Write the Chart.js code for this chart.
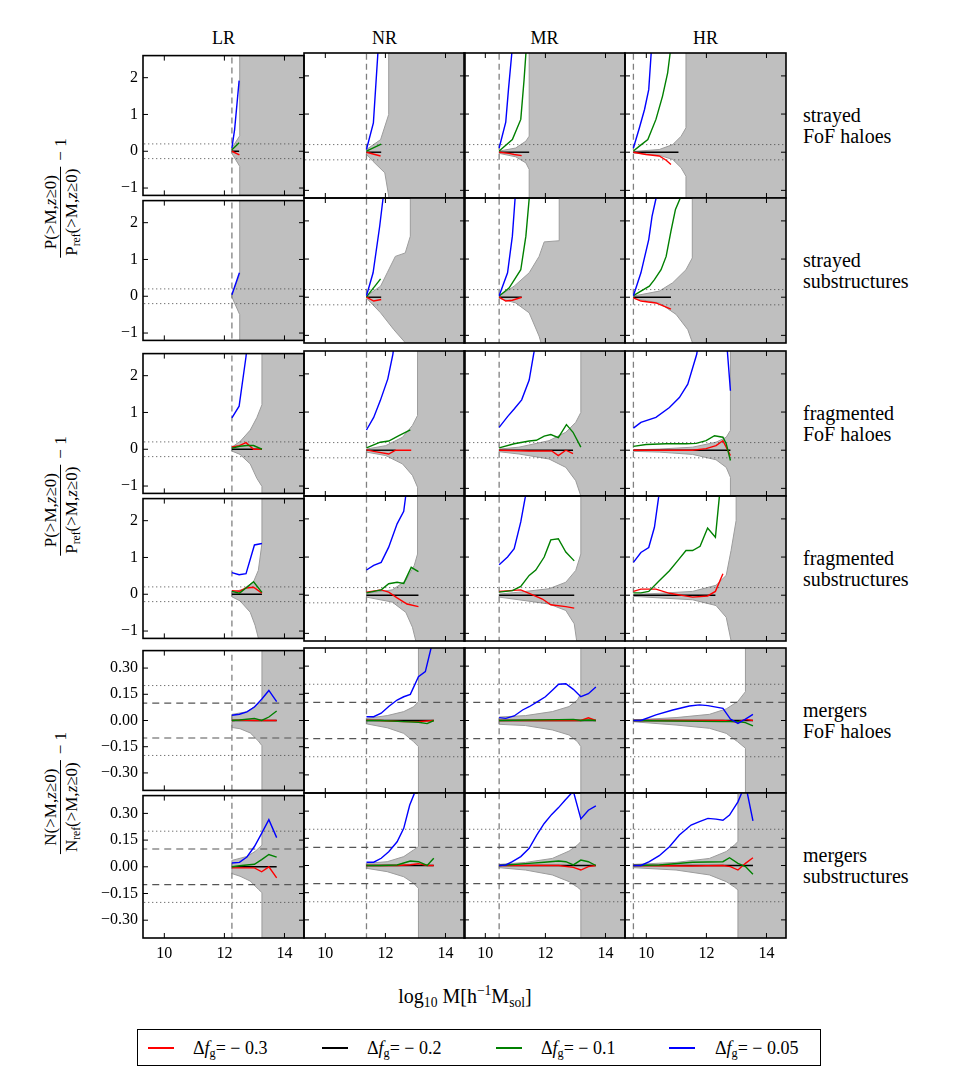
<!DOCTYPE html>
<html>
<head>
<meta charset="utf-8">
<script src="https://cdn.jsdelivr.net/npm/chart.js@4.4.1/dist/chart.umd.min.js"></script>
<style>
  body { margin: 0; background: #fff; width: 954px; height: 1073px; position: relative; overflow: hidden; }
  canvas { position: absolute; }
  .t { position: absolute; white-space: nowrap; font-family: "Liberation Serif", "Times New Roman", "DejaVu Serif", serif; color: #000; }
  .title { font-size: 18px; transform: translate(-50%, -50%); }
  .side { font-size: 20px; line-height: 21px; transform: translateY(-50%); }
  .ylab { font-size: 17px; transform: translate(-50%, -50%) rotate(-90deg); display: flex; align-items: center; }
  .frac { display: inline-flex; flex-direction: column; align-items: center; margin-right: 6px; line-height: 19px; }
  .frac .den { border-top: 1px solid #000; padding: 1px 2px 0 2px; }
  sub, sup { font-size: 0.68em; line-height: 0; }
  sub { vertical-align: -0.3em; }
  sup { vertical-align: 0.55em; }
  .xlab { font-size: 20px; transform: translate(-50%, -50%); }
  .legend { position: absolute; border: 1px solid #000; box-sizing: border-box; }
  .key { position: absolute; top: 17px; width: 26px; height: 1.5px; }
  .lt { position: absolute; top: 50%; transform: translateY(-50%); font-size: 18px; }
</style>
</head>
<body>

<div class="t title" style="left:223.5px;top:38px">LR</div>
<div class="t title" style="left:384.5px;top:38px">NR</div>
<div class="t title" style="left:544.5px;top:38px">MR</div>
<div class="t title" style="left:705.5px;top:38px">HR</div>

<div class="t side" style="left:803px;top:126px">strayed<br>FoF haloes</div>
<div class="t side" style="left:803px;top:271px">strayed<br>substructures</div>
<div class="t side" style="left:803px;top:424px">fragmented<br>FoF haloes</div>
<div class="t side" style="left:803px;top:569px">fragmented<br>substructures</div>
<div class="t side" style="left:803px;top:721px">mergers<br>FoF haloes</div>
<div class="t side" style="left:803px;top:866px">mergers<br>substructures</div>

<div class="t ylab" style="left:61px;top:198px"><span class="frac"><span>P(&gt;M,<i>z</i>≥0)</span><span class="den">P<sub>ref</sub>(&gt;M,<i>z</i>≥0)</span></span><span>− 1</span></div>
<div class="t ylab" style="left:61px;top:496px"><span class="frac"><span>P(&gt;M,<i>z</i>≥0)</span><span class="den">P<sub>ref</sub>(&gt;M,<i>z</i>≥0)</span></span><span>− 1</span></div>
<div class="t ylab" style="left:61px;top:793px"><span class="frac"><span>N(&gt;M,<i>z</i>≥0)</span><span class="den">N<sub>ref</sub>(&gt;M,<i>z</i>≥0)</span></span><span>− 1</span></div>

<div class="t xlab" style="left:465px;top:996px">log<sub>10</sub> M[h<sup>−1</sup>M<sub>sol</sub>]</div>

<div class="legend" style="left:137px;top:1029px;width:684px;height:37px">
  <div class="key" style="left:10px;background:#ff0000"></div>
  <div class="t lt" style="left:55px">Δ<i>f</i><sub>g</sub>= − 0.3</div>
  <div class="key" style="left:184px;background:#000000"></div>
  <div class="t lt" style="left:229px">Δ<i>f</i><sub>g</sub>= − 0.2</div>
  <div class="key" style="left:358px;background:#008000"></div>
  <div class="t lt" style="left:403px">Δ<i>f</i><sub>g</sub>= − 0.1</div>
  <div class="key" style="left:531px;background:#0000ff"></div>
  <div class="t lt" style="left:577px">Δ<i>f</i><sub>g</sub>= − 0.05</div>
</div>

<script>
// axes
const massMin = 9.29, massMax = 14.65;
const massTicks = [10, 12, 14];
const fracTicks = [-1, 0, 1, 2];
const countTicks = [-0.3, -0.15, 0, 0.15, 0.3];
const resolutionCut = [12.25, 11.37, 10.46, 9.57];   // LR, NR, MR, HR
const dottedLevels = [0.2, -0.2];
const dashedLevels = [0.1, -0.1];

// each array: one list of [log10 M, value] per resolution LR, NR, MR, HR

// strayed FoF haloes
const strayedFofRed = [
  [[12.25,0],[12.5,-0.1]],
  [[11.37,0],[11.84,-0.1]],
  [[10.46,0],[10.79,-0.03],[10.96,-0.06],[11.21,-0.09]],
  [[9.57,0],[9.99,-0.06],[10.43,-0.1],[10.66,-0.21],[10.82,-0.32]]];
const strayedFofBlack = [
  [[12.25,0],[12.49,0]], [[11.37,0],[11.86,0]], [[10.46,0],[11.46,0]], [[9.57,0],[11.07,0]]];
const strayedFofGreen = [
  [[12.25,0.04],[12.49,0.23]],
  [[11.37,0.03],[11.86,0.21]],
  [[10.46,0.03],[10.9,0.33],[11.18,0.86],[11.29,1.9],[11.35,2.58],[11.4,3.2]],
  [[9.57,0.03],[9.77,0.16],[10.05,0.33],[10.32,0.86],[10.54,1.47],[10.71,2.08],[10.79,2.58],[10.85,3.0]]];
const strayedFofBlue = [
  [[12.25,0.09],[12.34,0.59],[12.49,1.92]],
  [[11.37,0.07],[11.6,0.77],[11.75,2.6],[11.85,3.5]],
  [[10.46,0.11],[10.68,0.79],[10.77,1.64],[10.88,2.58],[10.95,3.2]],
  [[9.57,0.11],[9.77,0.64],[9.94,1.12],[10.08,1.64],[10.16,2.58],[10.2,3.0]]];
const strayedFofUpper = [
  [[12.25,0.09],[12.51,0.42]],
  [[11.37,0.07],[11.84,0.33],[12.11,0.99]],
  [[10.46,0.03],[11.01,0.11],[11.35,0.29],[11.46,0.42]],
  [[9.57,0.02],[10.43,0.07],[10.88,0.2],[11.16,0.42],[11.32,0.64]]];
const strayedFofLower = [
  [[12.25,-0.06],[12.51,-0.41]],
  [[11.37,-0.06],[11.59,-0.24],[11.98,-0.54],[12.11,-1.15]],
  [[10.46,-0.03],[11.01,-0.12],[11.35,-0.28],[11.46,-0.45]],
  [[9.57,-0.02],[10.43,-0.08],[10.88,-0.19],[11.16,-0.41],[11.32,-0.63]]];
const strayedFofCut = [12.51, 12.11, 11.46, 11.32];

// strayed substructures
const strayedSubRed = [
  [],
  [[11.37,0],[11.61,-0.1],[11.86,-0.06]],
  [[10.46,0],[10.68,-0.1],[10.9,-0.08],[11.21,0]],
  [[9.57,-0.02],[9.82,-0.1],[10.32,-0.15],[10.6,-0.24],[10.82,-0.31]]];
const strayedSubBlack = [
  [], [[11.37,0],[11.86,0]], [[10.46,0],[11.21,0]], [[9.57,0],[10.82,0]]];
const strayedSubGreen = [
  [],
  [[11.37,0.01],[11.84,0.48]],
  [[10.46,0.03],[10.79,0.24],[11.18,0.72],[11.35,1.6],[11.46,2.58],[11.5,3.0]],
  [[9.57,0.04],[9.82,0.16],[10.1,0.29],[10.27,0.46],[10.49,0.72],[10.66,1.07],[10.82,1.73],[10.97,2.3],[11.12,2.58],[11.2,3.0]]];
const strayedSubBlue = [
  [[12.25,0.04],[12.5,0.64]],
  [[11.37,0.04],[11.59,0.64],[11.81,1.86],[11.92,2.58],[12.0,3.2]],
  [[10.46,0.04],[10.74,0.64],[10.9,1.6],[10.99,2.58],[11.05,3.2]],
  [[9.57,0.04],[9.82,0.64],[10.08,1.51],[10.19,2.12],[10.32,2.58],[10.4,3.0]]];
const strayedSubUpper = [
  [[12.25,0.05],[12.51,0.6]],
  [[11.39,0.04],[11.84,0.29],[12.06,0.64],[12.33,1.07],[12.66,1.16],[12.83,1.6]],
  [[10.46,0.03],[10.96,0.29],[11.46,0.64],[11.79,1.07],[11.96,1.45],[12.46,1.48]],
  [[9.57,0.03],[10.43,0.16],[10.88,0.38],[11.32,0.72],[11.53,1.03]]];
const strayedSubLower = [
  [[12.25,-0.02],[12.51,-0.5]],
  [[11.39,-0.04],[11.84,-0.41],[12.28,-0.85],[12.67,-1.2],[12.83,-1.6]],
  [[10.46,-0.03],[11.01,-0.15],[11.46,-0.41],[11.79,-1.02],[11.85,-1.18],[12.0,-1.5],[12.46,-1.6]],
  [[9.57,-0.03],[10.43,-0.15],[10.99,-0.45],[11.38,-0.85],[11.53,-1.18]]];
const strayedSubCut = [12.51, 12.83, 12.46, 11.53];

// fragmented FoF haloes
const fragFofRed = [
  [[12.25,0.06],[12.5,0.1],[12.72,0.18],[12.97,0],[13.25,0]],
  [[11.37,0.01],[11.61,-0.03],[12.11,-0.1],[12.34,0],[12.86,0]],
  [[10.46,0],[11.46,-0.02],[12.21,-0.02],[12.43,-0.14],[12.68,0],[12.92,-0.09]],
  [[9.57,0],[10.43,0],[11.54,0],[11.99,0.04],[12.32,0.12],[12.55,0.25],[12.8,-0.14]]];
const fragFofBlack = [
  [[12.25,0],[13.25,0]], [[11.37,0],[12.34,0]], [[10.46,0],[12.92,0]], [[9.57,0],[12.8,0]]];
const fragFofGreen = [
  [[12.25,0.03],[12.52,0.08],[12.75,0.1],[12.97,0.1],[13.25,0]],
  [[11.37,0.06],[11.61,0.14],[11.83,0.21],[12.11,0.24],[12.45,0.38],[12.83,0.53]],
  [[10.46,0.06],[10.96,0.17],[11.46,0.24],[11.7,0.26],[11.96,0.37],[12.18,0.41],[12.43,0.33],[12.7,0.67],[12.92,0.47],[13.18,0.08]],
  [[9.57,0.1],[9.99,0.15],[10.66,0.17],[11.32,0.17],[11.66,0.18],[11.99,0.25],[12.27,0.38],[12.55,0.34],[12.66,0.17],[12.8,-0.27]]];
const fragFofBlue = [
  [[12.25,0.85],[12.49,1.17],[12.72,2.52],[12.8,3.2]],
  [[11.37,0.53],[11.61,0.86],[11.83,1.3],[12.08,1.87],[12.25,2.52],[12.35,3.2]],
  [[10.46,0.6],[10.74,0.88],[10.96,1.08],[11.21,1.32],[11.46,1.84],[11.62,2.57],[11.7,3.2]],
  [[9.57,0.58],[9.82,0.73],[10.32,0.86],[10.77,1.12],[11.1,1.38],[11.38,1.73],[11.68,2.52],[12.0,4.5],[12.5,4.6],[12.8,1.56]]];
const fragFofUpper = [
  [[12.25,0.06],[12.52,0.21],[12.86,0.52],[13.08,0.86],[13.25,1.21]],
  [[11.37,0.03],[12.01,0.12],[12.57,0.34],[12.9,0.65],[13.07,0.91]],
  [[10.46,0.03],[11.12,0.08],[12.12,0.25],[12.68,0.47],[13.01,0.73],[13.18,0.99]],
  [[9.57,0.01],[10.43,0.03],[11.54,0.08],[12.32,0.21],[12.66,0.34],[12.8,0.52]]];
const fragFofLower = [
  [[12.25,-0.05],[12.52,-0.14],[12.86,-0.4],[13.08,-0.79],[13.25,-1.01]],
  [[11.37,-0.05],[12.01,-0.14],[12.57,-0.36],[12.9,-0.66],[13.07,-0.97]],
  [[10.46,-0.04],[11.12,-0.1],[12.12,-0.23],[12.68,-0.45],[13.01,-0.8],[13.18,-1.2]],
  [[9.57,-0.03],[10.43,-0.05],[11.54,-0.11],[12.32,-0.25],[12.66,-0.45],[12.8,-0.71]]];
const fragFofCut = [13.25, 13.07, 13.18, 12.8];

// fragmented substructures
const fragSubRed = [
  [[12.25,0.1],[12.5,0.08],[12.72,0.17],[12.97,0.19],[13.25,0.03]],
  [[11.37,0.08],[11.86,0.14],[12.11,0.08],[12.39,-0.07],[12.72,-0.23],[13.1,-0.3]],
  [[10.46,0.1],[11.18,0.14],[11.46,0.05],[11.9,-0.1],[12.18,-0.25],[12.68,-0.3],[12.96,-0.34]],
  [[9.57,0.1],[9.82,0.16],[10.32,0.16],[10.77,0.05],[11.54,-0.05],[12.04,-0.02],[12.3,0.1],[12.55,0.56]]];
const fragSubBlack = [
  [[12.25,0],[13.25,0]], [[11.37,0],[13.1,0]], [[10.46,0],[12.96,0]], [[9.57,0],[12.3,0]]];
const fragSubGreen = [
  [[12.25,0.08],[12.5,0.03],[12.72,0.17],[12.97,0.34],[13.25,0.05]],
  [[11.37,0.06],[11.86,0.14],[12.11,0.3],[12.39,0.34],[12.61,0.31],[12.86,0.73],[13.1,0.62]],
  [[10.46,0.08],[10.9,0.12],[11.18,0.23],[11.46,0.52],[11.68,0.66],[11.96,1.0],[12.18,1.45],[12.43,1.48],[12.68,1.13],[12.96,0.9]],
  [[9.57,0.06],[9.82,0.06],[10.08,0.1],[10.43,0.38],[10.77,0.64],[11.04,0.9],[11.32,1.17],[11.54,1.17],[11.79,1.28],[12.04,1.76],[12.3,1.52],[12.43,2.57],[12.48,3.0]]];
const fragSubBlue = [
  [[12.25,0.59],[12.49,0.53],[12.72,0.56],[13.0,1.34],[13.25,1.38]],
  [[11.37,0.66],[11.61,0.78],[11.86,0.86],[12.11,1.26],[12.39,1.87],[12.61,2.2],[12.67,2.56],[12.72,3.0]],
  [[10.46,0.8],[10.74,1.0],[10.96,1.22],[11.18,1.92],[11.33,2.57],[11.4,3.0]],
  [[9.57,0.86],[9.82,1.12],[10.08,1.25],[10.27,1.78],[10.41,2.57],[10.46,3.0]]];
const fragSubUpper = [
  [[12.25,0.05],[12.63,0.14],[12.97,0.34],[13.13,0.65],[13.25,1.38]],
  [[11.37,0.05],[12.23,0.14],[12.68,0.38],[12.96,0.78],[13.07,1.08]],
  [[10.46,0.03],[11.12,0.08],[12.12,0.17],[12.68,0.34],[13.01,0.65],[13.18,1.08]],
  [[9.57,0.02],[10.43,0.05],[11.54,0.1],[12.32,0.26],[12.66,0.52],[12.82,1.17],[12.99,1.96]]];
const fragSubLower = [
  [[12.25,-0.07],[12.52,-0.18],[12.86,-0.49],[13.02,-0.84],[13.13,-1.19],[13.25,-1.5]],
  [[11.37,-0.05],[12.23,-0.18],[12.68,-0.45],[12.9,-0.84],[13.01,-1.19],[13.07,-1.5]],
  [[10.46,-0.05],[11.12,-0.12],[12.12,-0.23],[12.68,-0.4],[12.96,-0.75],[13.04,-1.19],[13.18,-1.6]],
  [[9.57,-0.03],[10.43,-0.07],[11.54,-0.12],[12.32,-0.27],[12.66,-0.58],[12.82,-1.19],[12.99,-1.6]]];
const fragSubCut = [13.25, 13.07, 13.18, 12.99];

// mergers FoF haloes
const mergFofRed = [
  [[12.25,0],[12.5,0.002],[13.0,0],[13.74,0]],
  [[11.37,0.002],[11.83,0],[12.61,-0.006],[13.1,-0.006],[13.61,0]],
  [[10.46,0],[12.44,0],[13.18,0],[13.43,0.015],[13.68,0]],
  [[9.57,0],[12.55,0],[12.8,-0.004],[13.05,-0.008],[13.3,0.006],[13.55,0]]];
const mergFofBlack = [
  [[12.25,0],[13.74,0]], [[11.37,0],[13.61,0]], [[10.46,0],[13.68,0]], [[9.57,0],[13.55,0]]];
const mergFofGreen = [
  [[12.25,0],[12.5,0.003],[13.0,0.012],[13.24,0],[13.48,0.02],[13.74,0.054]],
  [[11.37,0],[11.83,0],[12.61,-0.006],[13.1,-0.01],[13.39,-0.017],[13.61,0]],
  [[10.46,0],[12.44,0.005],[12.93,0.006],[13.18,0],[13.43,0.003],[13.68,0]],
  [[9.57,0],[12.55,-0.006],[13.05,-0.006],[13.3,-0.012],[13.55,-0.03]]];
const mergFofBlue = [
  [[12.25,0.03],[12.5,0.036],[12.75,0.049],[13.0,0.077],[13.24,0.122],[13.48,0.172],[13.74,0.108]],
  [[11.37,0.021],[11.61,0.021],[11.86,0.04],[12.11,0.077],[12.39,0.113],[12.61,0.131],[12.83,0.144],[13.1,0.242],[13.33,0.27],[13.52,0.4],[13.56,0.45]],
  [[10.46,0.016],[10.68,0.012],[10.96,0.025],[11.24,0.058],[11.46,0.076],[11.74,0.104],[12.0,0.131],[12.24,0.168],[12.44,0.2],[12.68,0.203],[12.93,0.172],[13.18,0.131],[13.43,0.148],[13.68,0.185]],
  [[9.57,0],[9.82,0],[10.32,0.031],[10.88,0.058],[11.43,0.08],[11.77,0.086],[12.05,0.082],[12.55,0.067],[12.8,0.008],[13.05,-0.016],[13.3,0.008],[13.55,0.034]]];
const mergFofUpper = [
  [[12.25,0.035],[12.75,0.05],[13.0,0.08],[13.25,0.11]],
  [[11.39,0.012],[12.06,0.027],[12.61,0.049],[12.94,0.076],[13.1,0.104]],
  [[10.46,0.019],[11.34,0.027],[12.23,0.049],[12.79,0.077],[13.07,0.114],[13.18,0.15]],
  [[9.57,0.003],[10.99,0.016],[12.1,0.034],[12.66,0.064],[13.04,0.104],[13.3,0.159]]];
const mergFofLower = [
  [[12.25,-0.04],[12.52,-0.047],[12.86,-0.071],[13.13,-0.117],[13.25,-0.144]],
  [[11.39,-0.019],[12.06,-0.04],[12.61,-0.071],[12.94,-0.117],[13.1,-0.144]],
  [[10.46,-0.021],[11.34,-0.028],[12.23,-0.052],[12.79,-0.08],[13.07,-0.117],[13.18,-0.144]],
  [[9.57,-0.007],[10.99,-0.025],[12.1,-0.043],[12.66,-0.071],[13.04,-0.117],[13.3,-0.153]]];
const mergFofCut = [13.25, 13.1, 13.18, 13.3];

// mergers substructures
const mergSubRed = [
  [[12.25,-0.006],[13.0,-0.006],[13.24,-0.028],[13.48,0],[13.74,-0.062]],
  [[11.37,0],[12.39,0],[12.83,0.004],[13.1,0.01],[13.39,0],[13.61,0]],
  [[10.46,0],[12.44,0],[12.93,-0.01],[13.18,-0.025],[13.43,-0.006],[13.68,0]],
  [[9.57,0],[11.49,-0.003],[12.55,0],[12.8,-0.006],[13.05,-0.025],[13.3,0.012],[13.55,0.043]]];
const mergSubBlack = [
  [[12.25,0],[13.74,0]], [[11.37,0],[13.61,0]], [[10.46,0],[13.68,0]], [[9.57,0],[13.55,0]]];
const mergSubGreen = [
  [[12.25,0],[12.5,0.006],[13.0,0.014],[13.24,0.04],[13.48,0.069],[13.74,0.054]],
  [[11.37,0],[11.83,0],[12.39,0.003],[12.83,0.025],[13.1,0.021],[13.39,0],[13.61,0.04]],
  [[10.46,0],[11.46,0.012],[11.96,0.018],[12.44,0.025],[12.68,0.021],[12.93,0.003],[13.18,0.03],[13.43,0.021],[13.68,0]],
  [[9.57,0],[10.43,0.003],[11.54,0.018],[12.55,0.021],[12.77,0.043],[13.05,0.012],[13.3,-0.006],[13.55,-0.048]]];
const mergSubBlue = [
  [[12.25,0.021],[12.5,0.025],[12.75,0.055],[13.0,0.114],[13.24,0.188],[13.48,0.265],[13.74,0.164]],
  [[11.37,0.018],[11.61,0.018],[11.86,0.04],[12.11,0.076],[12.39,0.131],[12.61,0.205],[12.81,0.334],[12.97,0.4],[13.0,0.45]],
  [[10.46,0],[10.68,0.003],[10.9,0.021],[11.18,0.049],[11.46,0.095],[11.71,0.168],[11.96,0.232],[12.21,0.282],[12.43,0.318],[12.66,0.361],[12.93,0.41],[13.18,0.257],[13.43,0.305],[13.68,0.329]],
  [[9.57,0],[9.82,0],[10.1,0.021],[10.43,0.054],[10.77,0.104],[11.1,0.168],[11.49,0.223],[11.77,0.242],[12.05,0.26],[12.32,0.256],[12.55,0.25],[12.77,0.278],[13.05,0.351],[13.3,0.45],[13.55,0.246]]];
const mergSubUpper = [
  [[12.25,0.036],[12.75,0.058],[13.02,0.086],[13.25,0.122]],
  [[11.39,0.012],[12.06,0.021],[12.61,0.049],[12.94,0.086],[13.1,0.104]],
  [[10.46,0.006],[11.34,0.017],[12.23,0.039],[12.79,0.08],[13.07,0.113],[13.18,0.132]],
  [[9.57,0.006],[10.99,0.017],[12.1,0.039],[12.66,0.077],[12.94,0.114],[13.05,0.132]]];
const mergSubLower = [
  [[12.25,-0.038],[12.52,-0.053],[12.86,-0.08],[13.13,-0.126],[13.25,-0.145]],
  [[11.39,-0.016],[12.06,-0.034],[12.61,-0.062],[12.94,-0.098],[13.1,-0.126]],
  [[10.46,-0.012],[11.34,-0.025],[12.23,-0.052],[12.79,-0.089],[13.07,-0.12],[13.18,-0.135]],
  [[9.57,-0.012],[10.99,-0.025],[12.1,-0.052],[12.66,-0.089],[12.94,-0.12],[13.05,-0.135]]];
const mergSubCut = [13.25, 13.1, 13.18, 13.05];

const panelRows = [
  { red: strayedFofRed, black: strayedFofBlack, green: strayedFofGreen, blue: strayedFofBlue, upper: strayedFofUpper, lower: strayedFofLower, cut: strayedFofCut, mergers: false },
  { red: strayedSubRed, black: strayedSubBlack, green: strayedSubGreen, blue: strayedSubBlue, upper: strayedSubUpper, lower: strayedSubLower, cut: strayedSubCut, mergers: false },
  { red: fragFofRed, black: fragFofBlack, green: fragFofGreen, blue: fragFofBlue, upper: fragFofUpper, lower: fragFofLower, cut: fragFofCut, mergers: false },
  { red: fragSubRed, black: fragSubBlack, green: fragSubGreen, blue: fragSubBlue, upper: fragSubUpper, lower: fragSubLower, cut: fragSubCut, mergers: false },
  { red: mergFofRed, black: mergFofBlack, green: mergFofGreen, blue: mergFofBlue, upper: mergFofUpper, lower: mergFofLower, cut: mergFofCut, mergers: true },
  { red: mergSubRed, black: mergSubBlack, green: mergSubGreen, blue: mergSubBlue, upper: mergSubUpper, lower: mergSubLower, cut: mergSubCut, mergers: true }
];

// page layout of the panels
const colLeft = [143, 304, 464, 625], panelW = 161;
const rowTop = [53, 198, 351, 496, 648, 793], panelH = 145;
const PAD = 12, YAXIS = 48, XAXIS = 26;
const tickFont = { family: '"Liberation Serif", "Times New Roman", "DejaVu Serif", serif', size: 16 };

const pts = a => a.map(p => ({ x: p[0], y: p[1] }));
const minus = v => (v < 0 ? '\u2212' : '');

// grey region: noise band plus everything above the mass cut
function bandShape(up, low, cut) {
  const poly = [...up, [cut, 99], [99, 99], [99, -99], [cut, -99], ...low.slice().reverse(), up[0]];
  return pts(poly);
}

function line(data, color, width, dash, order) {
  return { data: pts(data), borderColor: color, borderWidth: width, borderDash: dash || [],
           pointRadius: 0, fill: false, tension: 0, order: order };
}

// frame and inward ticks on all four sides
const framePlugin = {
  id: 'frame',
  afterDatasetsDraw(chart, args, opts) {
    const { ctx, chartArea: a, scales: { x, y } } = chart;
    ctx.save();
    ctx.strokeStyle = '#000';
    ctx.lineWidth = 1;
    ctx.beginPath();
    massTicks.forEach(v => {
      const p = x.getPixelForValue(v);
      ctx.moveTo(p, a.top); ctx.lineTo(p, a.top + 5);
      ctx.moveTo(p, a.bottom); ctx.lineTo(p, a.bottom - 5);
    });
    opts.yTicks.forEach(v => {
      const p = y.getPixelForValue(v);
      ctx.moveTo(a.left, p); ctx.lineTo(a.left + 5, p);
      ctx.moveTo(a.right, p); ctx.lineTo(a.right - 5, p);
    });
    ctx.stroke();
    ctx.lineWidth = 1.6;
    ctx.strokeRect(a.left, a.top, a.right - a.left, a.bottom - a.top);
    ctx.restore();
  }
};

panelRows.forEach((row, r) => {
  for (let c = 0; c < 4; c++) {
    const first = c === 0, last = r === panelRows.length - 1;
    const padLeft = first ? YAXIS : PAD, padBottom = last ? XAXIS : PAD;
    const w = panelW + padLeft + PAD, h = panelH + PAD + padBottom;
    const cv = document.createElement('canvas');
    cv.width = w; cv.height = h;
    cv.style.left = (colLeft[c] - padLeft) + 'px';
    cv.style.top = (rowTop[r] - PAD) + 'px';
    cv.style.width = w + 'px'; cv.style.height = h + 'px';
    document.body.appendChild(cv);

    const yTicks = row.mergers ? countTicks : fracTicks;
    const yMin = row.mergers ? -0.4 : -1.2, yMax = row.mergers ? 0.4 : 2.6;

    const datasets = [
      { data: bandShape(row.upper[c], row.lower[c], row.cut[c]), fill: 'shape',
        backgroundColor: '#bfbfbf', borderColor: '#9c9c9c', borderWidth: 1, pointRadius: 0, tension: 0, order: 9 },
      ...dottedLevels.map(v => line([[8, v], [16, v]], '#444444', 1, [1, 3], 5)),
      ...(row.mergers ? dashedLevels.map(v => line([[8, v], [16, v]], '#555555', 1.2, [7, 5], 5)) : []),
      line([[resolutionCut[c], -99], [resolutionCut[c], 99]], '#808080', 1.3, [6, 4], 5),
      line(row.black[c], '#000000', 1.4, null, 3),
      line(row.red[c], '#ff0000', 1.4, null, 2),
      line(row.green[c], '#008000', 1.4, null, 1),
      line(row.blue[c], '#0000ff', 1.4, null, 0)
    ];

    new Chart(cv, {
      type: 'line',
      data: { datasets },
      options: {
        responsive: false,
        animation: false,
        events: [],
        layout: { padding: { left: first ? 0 : PAD, right: PAD, top: PAD, bottom: last ? 0 : PAD } },
        plugins: { legend: { display: false }, tooltip: { enabled: false }, frame: { yTicks } },
        scales: {
          x: {
            type: 'linear', min: massMin, max: massMax, display: last,
            grid: { display: false, drawTicks: false }, border: { display: false },
            afterBuildTicks: s => { s.ticks = massTicks.map(v => ({ value: v })); },
            afterFit: s => { s.height = last ? XAXIS : 0; },
            ticks: { padding: 6, color: '#000', font: tickFont, maxRotation: 0, autoSkip: false,
                     callback: v => String(v) }
          },
          y: {
            type: 'linear', min: yMin, max: yMax, display: first,
            grid: { display: false, drawTicks: false }, border: { display: false },
            afterBuildTicks: s => { s.ticks = yTicks.map(v => ({ value: v })); },
            afterFit: s => { s.width = first ? YAXIS : 0; },
            ticks: { padding: 5, color: '#000', font: tickFont, autoSkip: false,
                     callback: v => row.mergers ? minus(v) + Math.abs(v).toFixed(2) : minus(v) + Math.abs(v) }
          }
        }
      },
      plugins: [framePlugin]
    });
  }
});
</script>
</body>
</html>
